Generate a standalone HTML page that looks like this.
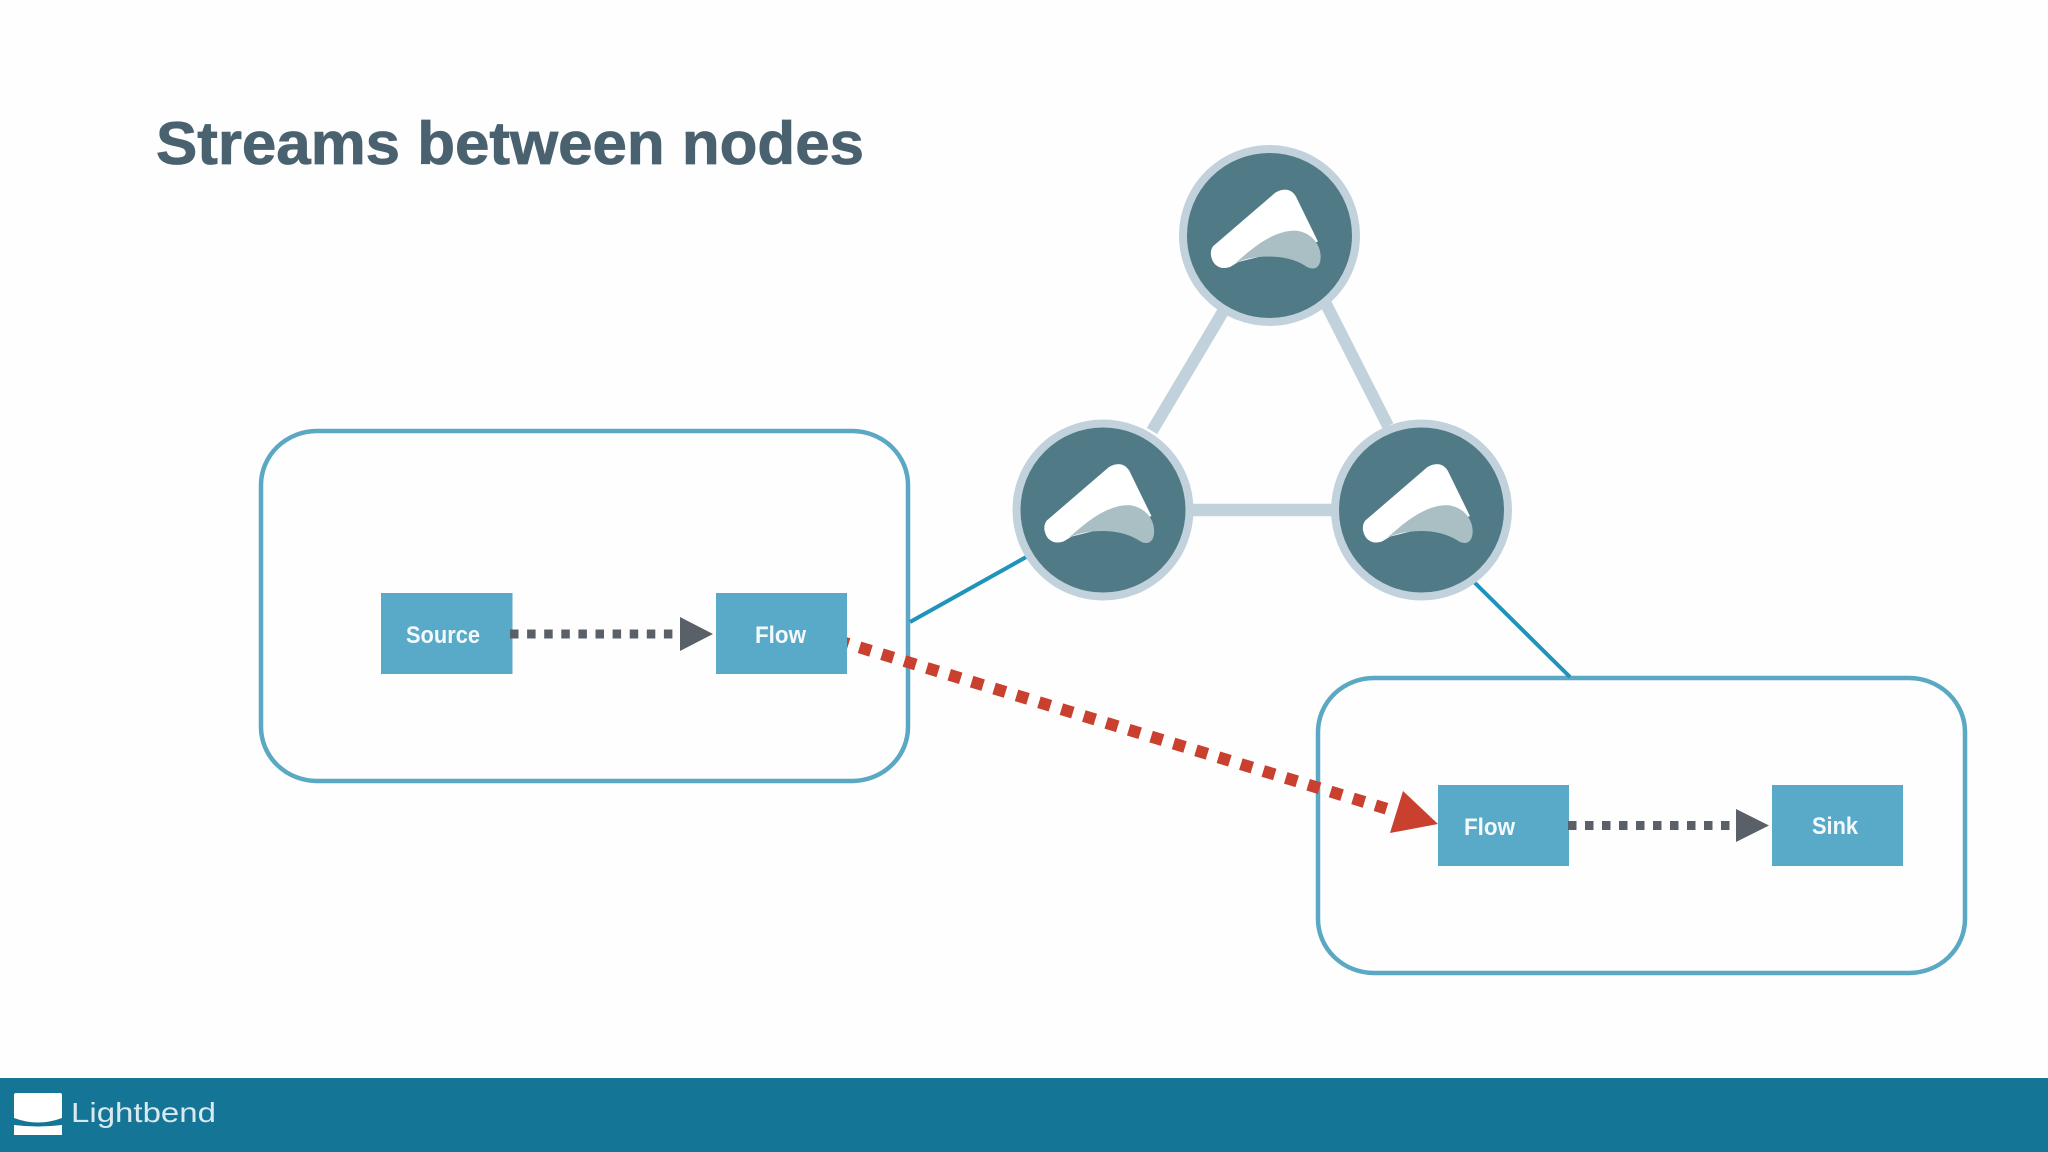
<!DOCTYPE html>
<html>
<head>
<meta charset="utf-8">
<style>
html,body{margin:0;padding:0;background:#fefefe;}
svg{display:block;}
text{font-family:"Liberation Sans",sans-serif;}
</style>
</head>
<body>
<svg width="2048" height="1152" viewBox="0 0 2048 1152" xmlns="http://www.w3.org/2000/svg">
<rect width="2048" height="1152" fill="#fefefe"/>
<text x="156" y="164" font-size="60" font-weight="700" fill="#4a6270" stroke="#4a6270" stroke-width="0.8" textLength="708" lengthAdjust="spacingAndGlyphs">Streams between nodes</text>

<rect x="261" y="431" width="647" height="350" rx="56" ry="54" fill="none" stroke="#5ba8c4" stroke-width="4.5"/>
<rect x="1318" y="678" width="647" height="295" rx="56" ry="54" fill="none" stroke="#5ba8c4" stroke-width="4.5"/>

<line x1="910" y1="622" x2="1028" y2="556" stroke="#1f93ba" stroke-width="4"/>
<line x1="1474" y1="582" x2="1570" y2="677" stroke="#1f93ba" stroke-width="4"/>

<line x1="1224" y1="310" x2="1152" y2="431" stroke="#c1d2dc" stroke-width="12"/>
<line x1="1326" y1="304" x2="1388" y2="426" stroke="#c1d2dc" stroke-width="12"/>
<line x1="1190" y1="510" x2="1335" y2="510" stroke="#c1d2dc" stroke-width="12.5"/>

<circle cx="1269.5" cy="235.5" r="86.5" fill="#517a87" stroke="#c1d2dc" stroke-width="8"/>
<circle cx="1103" cy="510" r="86.5" fill="#517a87" stroke="#c1d2dc" stroke-width="8"/>
<circle cx="1421.5" cy="510" r="86.5" fill="#517a87" stroke="#c1d2dc" stroke-width="8"/>

<g transform="translate(1170,140) scale(0.3333)">
<path d="M130,318 L316,158 C340,143 365,146 378,170 L444,305 L270,350 L205,366 L182,380 C160,390 133,382 125,355 C120,340 123,326 130,318Z" fill="#fff"/>
<path d="M205,362 C250,322 310,272 375,272 C420,275 452,310 452,350 C452,390 425,392 405,377 C350,342 260,342 195,369Z" fill="#a9bfc4"/>
</g>
<g transform="translate(1003.5,414.5) scale(0.3333)">
<path d="M130,318 L316,158 C340,143 365,146 378,170 L444,305 L270,350 L205,366 L182,380 C160,390 133,382 125,355 C120,340 123,326 130,318Z" fill="#fff"/>
<path d="M205,362 C250,322 310,272 375,272 C420,275 452,310 452,350 C452,390 425,392 405,377 C350,342 260,342 195,369Z" fill="#a9bfc4"/>
</g>
<g transform="translate(1322,414.5) scale(0.3333)">
<path d="M130,318 L316,158 C340,143 365,146 378,170 L444,305 L270,350 L205,366 L182,380 C160,390 133,382 125,355 C120,340 123,326 130,318Z" fill="#fff"/>
<path d="M205,362 C250,322 310,272 375,272 C420,275 452,310 452,350 C452,390 425,392 405,377 C350,342 260,342 195,369Z" fill="#a9bfc4"/>
</g>

<line x1="837.07" y1="640.45" x2="1386.5" y2="808.7" stroke="#c9402f" stroke-width="12" stroke-dasharray="12 11.46"/>
<polygon points="1438,824 1403,791 1390,833" fill="#c9402f"/>

<rect x="381" y="593" width="131.5" height="81" fill="#58aac8"/>
<rect x="716" y="593" width="131" height="81" fill="#58aac8"/>
<rect x="1438" y="785" width="131" height="81" fill="#58aac8"/>
<rect x="1772" y="785" width="131" height="81" fill="#58aac8"/>

<text x="406" y="643" font-size="24" font-weight="700" fill="#f4fafc" textLength="74" lengthAdjust="spacingAndGlyphs">Source</text>
<text x="755" y="643" font-size="24" font-weight="700" fill="#f4fafc" textLength="51" lengthAdjust="spacingAndGlyphs">Flow</text>
<text x="1464" y="835" font-size="24" font-weight="700" fill="#f4fafc" textLength="51" lengthAdjust="spacingAndGlyphs">Flow</text>
<text x="1812" y="834" font-size="24" font-weight="700" fill="#f4fafc" textLength="46" lengthAdjust="spacingAndGlyphs">Sink</text>

<line x1="510" y1="634" x2="673" y2="634" stroke="#5a6068" stroke-width="9" stroke-dasharray="8.5 8.6"/>
<polygon points="680,617 713,634 680,651" fill="#5a6068"/>
<line x1="1568" y1="825.5" x2="1730" y2="825.5" stroke="#5a6068" stroke-width="9" stroke-dasharray="8.5 8.5"/>
<polygon points="1736,809 1769,825.5 1736,842" fill="#5a6068"/>

<rect x="0" y="1078" width="2048" height="74" fill="#147596"/>
<path d="M14,1095 Q14,1093 16,1093 H60 Q62,1093 62,1095 V1118 Q38,1127 14,1118Z" fill="#fff"/>
<path d="M14,1125 Q38,1128 62,1125 V1135 H14Z" fill="#fff"/>
<text x="71" y="1122" font-size="28" fill="#d8eaf0" textLength="145" lengthAdjust="spacingAndGlyphs">Lightbend</text>
</svg>
</body>
</html>
